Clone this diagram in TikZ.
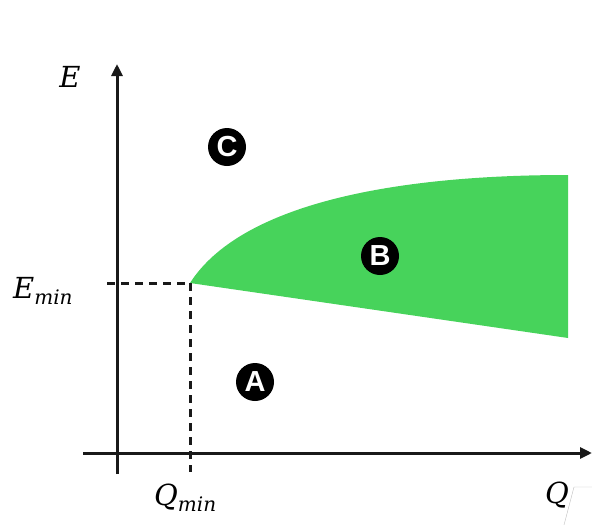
\documentclass[tikz,border=0pt]{standalone}
\usepackage{fontspec}
\newfontfamily\lblfont{Liberation Sans}
\newfontfamily\axfont{DejaVu Serif}
\usetikzlibrary{arrows.meta}
\definecolor{regiongreen}{RGB}{71,211,91}
\definecolor{inkdark}{RGB}{25,25,25}
\newcommand{\axsub}[2]{#1\raisebox{-6pt}{\fontsize{20}{21}\selectfont #2}}
\tikzset{
  axis/.style={draw=inkdark, line width=3pt, -{Triangle[length=12pt,width=11pt]}},
  guide/.style={draw=inkdark, line width=3pt, dash pattern=on 8pt off 6pt},
  badge/.style={circle, fill=black, text=white, minimum size=38pt, inner sep=0pt, font=\lblfont\bfseries\fontsize{29}{30}\selectfont},
  axlabel/.style={font=\axfont\itshape\fontsize{29}{30}\selectfont, inner sep=0pt}
}
\begin{document}
\begin{tikzpicture}[x=1pt,y=-1pt]
\useasboundingbox (0,0) rectangle (592,525);
% region B
\coordinate (P) at (190,283);
\coordinate (TR) at (568,175);
\coordinate (BR) at (568,338);
\fill[regiongreen] (P) .. controls (240,205) and (390,175) .. (TR) -- (BR) -- cycle;
% axes
\coordinate (xs) at (83,453);
\coordinate (xe) at (592,453);
\coordinate (ys) at (117,474);
\coordinate (ye) at (117,64);
\draw[axis] (xs) -- (xe);
\draw[axis] (ys) -- (ye);
% guides
\coordinate (hl) at (107,283);
\coordinate (vb) at (190,472);
\draw[guide] (hl) -- (P);
\draw[guide] (P) -- (vb);
% labels
\node[axlabel] (E) at (70,77) {E};
\node[axlabel, anchor=base west] (Emin) at (13,298) {\axsub{E}{min}};
\node[axlabel, anchor=base west] (Qmin) at (154,505) {\axsub{Q}{min}};
\node[axlabel] (Q) at (557,495) {Q};
% artifact lines near Q
\coordinate (g1) at (574,487);
\coordinate (g2) at (592,487);
\coordinate (g3) at (564,525);
\draw[gray!50, line width=0.4pt] (g2) -- (g1) -- (g3);
% badges
\node[badge] (C) at (227,147) {C};
\node[badge] (B) at (380,256) {B};
\node[badge] (A) at (255,382) {A};
\end{tikzpicture}
\end{document}
